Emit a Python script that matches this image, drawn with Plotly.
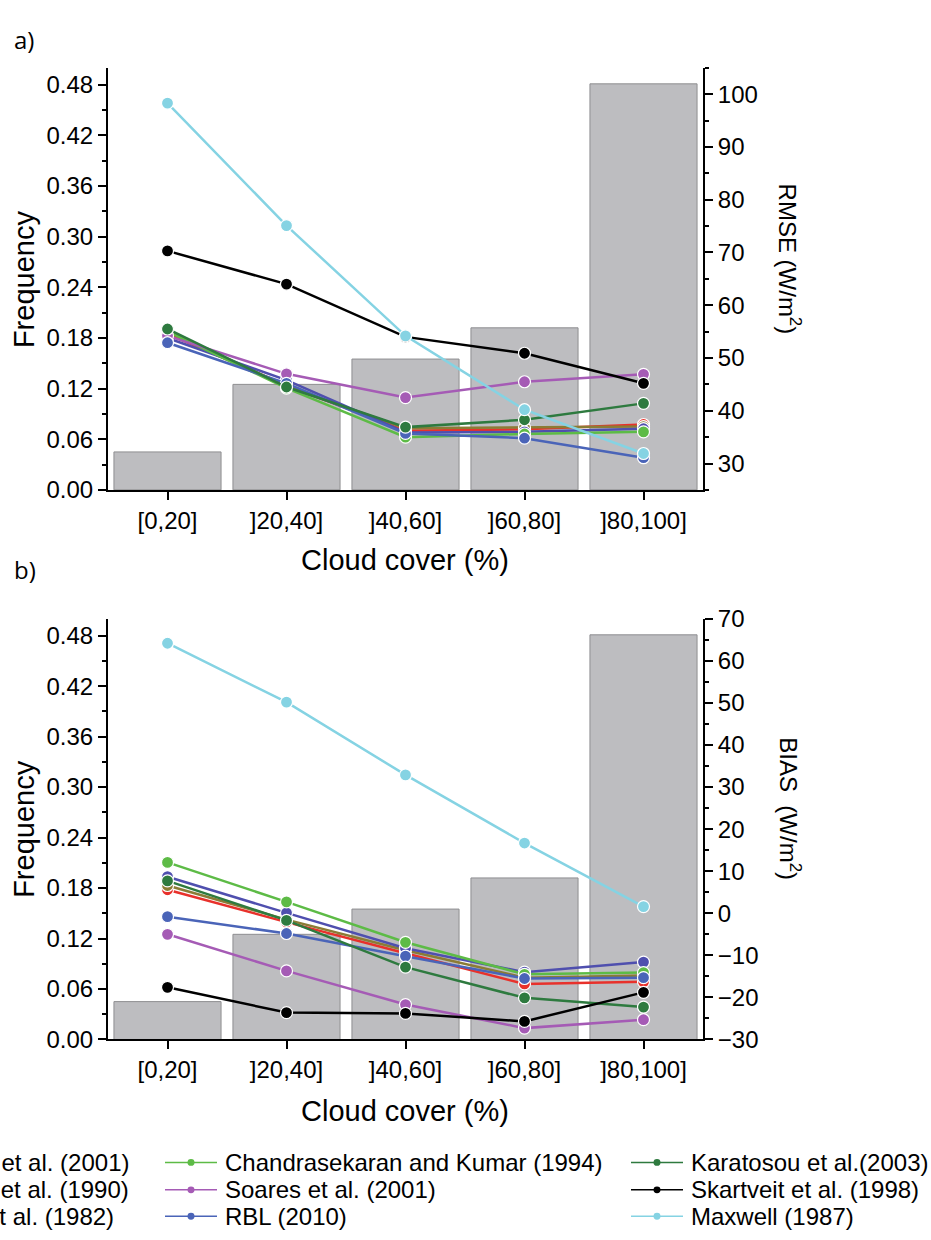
import plotly.graph_objects as go

W, H = 931, 1240

categories = ["[0,20]", "]20,40]", "]40,60]", "]60,80]", "]80,100]"]
frequency = [0.045, 0.125, 0.155, 0.192, 0.481]

model_names = ["Boland et al. (2001)", "Reindl et al. (1990)", "Erbs et al. (1982)",
               "Chandrasekaran and Kumar (1994)", "Soares et al. (2001)", "RBL (2010)",
               "Karatosou et al.(2003)", "Skartveit et al. (1998)", "Maxwell (1987)"]
model_colors = ["#e8312b", "#8b7c35", "#4f4fae",
                "#5dbb46", "#a55bb5", "#4a64b8",
                "#2e7a3f", "#000000", "#85d3e3"]

# RMSE (W/m2) per cloud-cover class
rmse_boland = [54.6, 44.8, 36.2, 36.5, 37.4]
rmse_reindl = [55.2, 44.6, 36.7, 36.8, 37.0]
rmse_erbs = [53.8, 45.8, 35.9, 36.0, 36.6]
rmse_chandra = [55.0, 44.3, 35.0, 35.6, 36.0]
rmse_soares = [54.2, 47.0, 42.5, 45.5, 46.9]
rmse_rbl = [52.9, 45.2, 35.7, 34.8, 31.1]
rmse_karatosou = [55.5, 44.5, 36.9, 38.3, 41.4]
rmse_skartveit = [70.3, 64.0, 54.0, 50.9, 45.2]
rmse_maxwell = [98.3, 75.1, 54.2, 40.2, 31.9]

# BIAS (W/m2) per cloud-cover class
bias_boland = [5.6, -2.1, -9.5, -16.8, -16.3]
bias_reindl = [6.6, -1.5, -8.8, -15.3, -14.8]
bias_erbs = [8.7, 0.1, -8.3, -14.0, -11.6]
bias_chandra = [12.1, 2.7, -6.9, -14.5, -14.1]
bias_soares = [-5.0, -13.7, -21.7, -27.3, -25.3]
bias_rbl = [-0.8, -4.8, -10.2, -15.5, -15.3]
bias_karatosou = [7.7, -1.7, -12.8, -20.1, -22.3]
bias_skartveit = [-17.6, -23.6, -23.8, -25.7, -18.8]
bias_maxwell = [64.2, 50.2, 32.9, 16.7, 1.6]

rmse_series = [rmse_boland, rmse_reindl, rmse_erbs, rmse_chandra, rmse_soares,
               rmse_rbl, rmse_karatosou, rmse_skartveit, rmse_maxwell]
bias_series = [bias_boland, bias_reindl, bias_erbs, bias_chandra, bias_soares,
               bias_rbl, bias_karatosou, bias_skartveit, bias_maxwell]


def fx(px):
    return px / W


def fy(py):
    return 1 - py / H


FONT = "Liberation Sans, Arial, Helvetica, sans-serif"
BAR_COLOR = "#bdbdc0"

fig = go.Figure()

# Panel a
fig.add_trace(go.Bar(x=categories, y=frequency, xaxis="x", yaxis="y", width=0.9,
                     marker=dict(color=BAR_COLOR, line=dict(color="#8e8e90", width=1)),
                     showlegend=False))
for name, col, vals in zip(model_names, model_colors, rmse_series):
    fig.add_trace(go.Scatter(x=categories, y=vals, xaxis="x", yaxis="y2", name=name,
                             mode="lines+markers", line=dict(color=col, width=2.5),
                             marker=dict(color=col, size=12, line=dict(color="white", width=1.2)),
                             showlegend=False))

# Panel b
fig.add_trace(go.Bar(x=categories, y=frequency, xaxis="x2", yaxis="y3", width=0.9,
                     marker=dict(color=BAR_COLOR, line=dict(color="#8e8e90", width=1)),
                     showlegend=False))
for name, col, vals in zip(model_names, model_colors, bias_series):
    fig.add_trace(go.Scatter(x=categories, y=vals, xaxis="x2", yaxis="y4", name=name,
                             mode="lines+markers", line=dict(color=col, width=2.5),
                             marker=dict(color=col, size=12, line=dict(color="white", width=1.2)),
                             showlegend=False))

x_dom = [fx(108), fx(703)]
a_dom = [fy(486.5), fy(55)]
b_dom = [fy(1048.3), fy(618.3)]

tickfont = dict(family=FONT, size=24, color="black")
common_axis = dict(showline=True, linecolor="black", linewidth=2, ticks="outside",
                   ticklen=8, tickwidth=2, tickcolor="black", showgrid=False,
                   zeroline=False, tickfont=tickfont, mirror=False)

xaxis_common = dict(common_axis, type="category", range=[-0.5, 4.5],
                    categoryorder="array", categoryarray=categories)

freq_axis = dict(common_axis, range=[0, 0.5], dtick=0.06, tick0=0, tickformat=".2f",
                 minor=dict(dtick=0.03, tick0=0, ticks="outside", ticklen=4,
                            tickwidth=2, tickcolor="black"))

fig.update_layout(
    width=W, height=H, autosize=False,
    margin=dict(l=0, r=0, t=0, b=0),
    paper_bgcolor="white", plot_bgcolor="rgba(0,0,0,0)",
    showlegend=False,
    xaxis=dict(xaxis_common, domain=x_dom, anchor="y"),
    yaxis=dict(freq_axis, domain=a_dom, anchor="x"),
    yaxis2=dict(common_axis, overlaying="y", side="right", anchor="x",
                range=[25, 105], dtick=10, tick0=0,
                minor=dict(dtick=5, tick0=0, ticks="outside", ticklen=4,
                           tickwidth=2, tickcolor="black")),
    xaxis2=dict(xaxis_common, domain=x_dom, anchor="y3"),
    yaxis3=dict(freq_axis, domain=b_dom, anchor="x2"),
    yaxis4=dict(common_axis, overlaying="y3", side="right", anchor="x2",
                range=[-30, 70], dtick=10, tick0=0,
                minor=dict(dtick=5, tick0=0, ticks="outside", ticklen=4,
                           tickwidth=2, tickcolor="black")),
)

ann = []


def text(x, y, s, size, angle=0, xanchor="center", family=FONT):
    ann.append(dict(x=fx(x), y=fy(y), xref="paper", yref="paper", text=s,
                    showarrow=False, textangle=angle, xanchor=xanchor, yanchor="middle",
                    align=xanchor if xanchor in ("left", "right") else "center",
                    font=dict(family=family, size=size, color="black")))


# panel labels
text(12, 26, "a)", 24, xanchor="left", family="Open Sans, Lato, sans-serif")
text(12, 568, "b)", 24, xanchor="left", family="Open Sans, Lato, sans-serif")

# axis titles
text(24, 271, "Frequency", 29, angle=-90)
text(24, 833, "Frequency", 29, angle=-90)
text(405, 558, "Cloud cover (%)", 29)
text(405, 1121, "Cloud cover (%)", 29)
text(790, 250, "RMSE (W/m<sup>2</sup>)", 24, angle=90)
text(790, 812, "BIAS  (W/m<sup>2</sup>)", 24, angle=90)

# manual legend (first column is cut by the page edge, as in the original)
rows_y = [1174, 1202, 1229]
col1_right = [131, 131, 116]
shapes = []
for ri in range(3):
    text(col1_right[ri], rows_y[ri], model_names[ri], 24, xanchor="right")
for ci, (sym_x, tx) in enumerate([(191, 223), (657, 689)], start=1):
    for ri in range(3):
        idx = ci * 3 + ri
        y = rows_y[ri]
        col = model_colors[idx]
        shapes.append(dict(type="line", xref="paper", yref="paper",
                           x0=fx(sym_x - 26), x1=fx(sym_x + 26), y0=fy(y), y1=fy(y),
                           line=dict(color=col, width=1.5)))
        shapes.append(dict(type="circle", xref="paper", yref="paper",
                           x0=fx(sym_x - 3.5), x1=fx(sym_x + 3.5),
                           y0=fy(y - 3.5), y1=fy(y + 3.5),
                           fillcolor=col, line=dict(color=col, width=0)))
        text(tx, y, model_names[idx], 24, xanchor="left")

fig.update_layout(annotations=ann, shapes=shapes)

fig.write_html("out.html")
